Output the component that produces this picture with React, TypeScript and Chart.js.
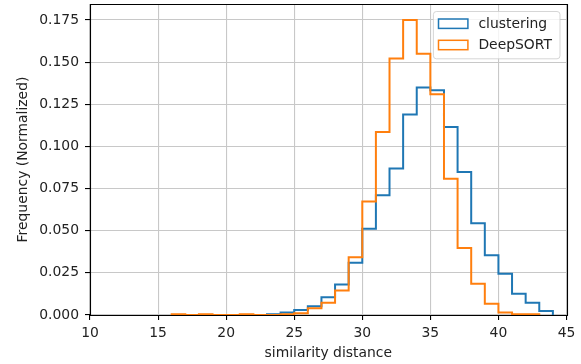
import React, { useEffect, useRef } from "react";
import { Chart, registerables } from "chart.js";

Chart.register(...registerables);

// Histogram bin edges (width 1) for bins 16..43
const binEdges = [16, 17, 18, 19, 20, 21, 22, 23, 24, 25, 26, 27, 28, 29, 30, 31, 32, 33, 34, 35, 36, 37, 38, 39, 40, 41, 42, 43, 44];

// Normalized frequency per bin (null = outside the series range)
const clusteringValues = [
  null, null, null, null, null, null, null,
  0.0005, 0.0015, 0.003, 0.0052, 0.0106, 0.0181, 0.031, 0.0512, 0.071, 0.0869,
  0.119, 0.135, 0.1334, 0.1116, 0.0849, 0.0545, 0.0354, 0.0245, 0.0126, 0.0072, 0.0023,
];
const deepsortValues = [
  0.0005, 0, 0.0005, 0, 0, 0.0005, 0, 0, 0.0005, 0.001, 0.004, 0.0072, 0.0146, 0.0343,
  0.0674, 0.1086, 0.1522, 0.175, 0.155, 0.131, 0.0809, 0.0397, 0.0185, 0.0066, 0.0015,
  0.0005, 0.0005, null,
];

const seriesLabels = ["clustering", "DeepSORT"];
const seriesColors = ["#1f77b4", "#ff7f0e"];

const xTicks = [10, 15, 20, 25, 30, 35, 40, 45];
const yTicks = [0, 0.025, 0.05, 0.075, 0.1, 0.125, 0.15, 0.175];
const xRange = [10, 45];
const yRange = [0, 0.1845];

const FONT = "'DejaVu Sans', sans-serif";
const FS = 13.9;

function stepPoints(vals: (number | null)[]) {
  const pts: { x: number; y: number }[] = [];
  let first = -1;
  let last = -1;
  vals.forEach((v, i) => {
    if (v !== null) {
      if (first < 0) first = i;
      last = i;
    }
  });
  pts.push({ x: binEdges[first], y: 0 });
  for (let i = first; i <= last; i++) pts.push({ x: binEdges[i], y: vals[i] as number });
  pts.push({ x: binEdges[last + 1], y: 0 });
  return pts;
}

const framePlugin = {
  id: "mplFrame",
  afterDatasetsDraw(chart: any) {
    const { ctx, chartArea } = chart;
    const l = Math.round(chartArea.left) + 0.5;
    const t = Math.round(chartArea.top) + 0.5;
    const r = Math.round(chartArea.right) + 0.5;
    const b = Math.round(chartArea.bottom) + 0.5;
    ctx.save();
    ctx.strokeStyle = "#000";
    ctx.lineWidth = 1.1;
    ctx.beginPath();
    ctx.rect(l, t, r - l, b - t);
    ctx.stroke();

    // legend
    const fr = chartArea.right - 7;
    const ft = chartArea.top + 7;
    const fw = 126.6;
    const fh = 47.3;
    const fl = fr - fw;
    ctx.beginPath();
    ctx.roundRect(fl + 0.5, ft + 0.5, fw, fh, 3);
    ctx.fillStyle = "rgba(255,255,255,0.8)";
    ctx.fill();
    ctx.strokeStyle = "rgba(204,204,204,0.8)";
    ctx.lineWidth = 1;
    ctx.stroke();
    ctx.font = `${FS}px ${FONT}`;
    ctx.textBaseline = "middle";
    ctx.textAlign = "left";
    seriesLabels.forEach((lab, i) => {
      const cy = ft + 12.7 + i * 21.3;
      ctx.strokeStyle = seriesColors[i];
      ctx.lineWidth = 1.5;
      ctx.strokeRect(fl + 5.6, cy - 4.7, 29.4, 9.4);
      ctx.fillStyle = "#222";
      ctx.fillText(lab, fl + 45.5, cy + 0.5);
    });
    ctx.restore();
  },
};

export default function App() {
  const ref = useRef<HTMLCanvasElement>(null);

  useEffect(() => {
    const canvas = ref.current;
    if (!canvas) return;
    const tickFont = { family: FONT, size: FS };
    const chart = new Chart(canvas, {
      type: "line",
      data: {
        datasets: [
          {
            label: seriesLabels[0],
            data: stepPoints(clusteringValues),
            borderColor: seriesColors[0],
            borderWidth: 2,
            pointRadius: 0,
            fill: false,
            stepped: "before",
            order: 1,
          },
          {
            label: seriesLabels[1],
            data: stepPoints(deepsortValues),
            borderColor: seriesColors[1],
            borderWidth: 2,
            pointRadius: 0,
            fill: false,
            stepped: "before",
            order: 0,
          },
        ],
      },
      options: {
        animation: false,
        responsive: false,
        maintainAspectRatio: false,
        devicePixelRatio: 1,
        layout: { padding: { top: 4, right: 14.5, left: 0, bottom: 0 } },
        plugins: {
          legend: { display: false },
          tooltip: { enabled: false },
        },
        scales: {
          x: {
            type: "linear",
            min: xRange[0],
            max: xRange[1],
            afterBuildTicks: (axis: any) => {
              axis.ticks = xTicks.map((v) => ({ value: v }));
            },
            afterFit: (axis: any) => {
              axis.height = 49;
              axis.paddingLeft = 0;
              axis.paddingRight = 0;
            },
            grid: {
              color: "#c8c8c8",
              lineWidth: 1.1,
              tickColor: "#000",
              tickLength: 5,
              drawTicks: true,
            },
            border: { display: false },
            ticks: {
              font: tickFont,
              color: "#222",
              padding: 5,
              maxRotation: 0,
              autoSkip: false,
              callback: (v: any) => String(v),
            },
            title: {
              display: true,
              text: "similarity distance",
              font: tickFont,
              color: "#222",
              padding: { top: 0, bottom: 2 },
            },
          },
          y: {
            type: "linear",
            min: yRange[0],
            max: yRange[1],
            afterBuildTicks: (axis: any) => {
              axis.ticks = yTicks.map((v) => ({ value: v }));
            },
            afterFit: (axis: any) => {
              axis.width = 90;
              axis.paddingTop = 0;
              axis.paddingBottom = 0;
            },
            grid: {
              color: "#c8c8c8",
              lineWidth: 1.1,
              tickColor: "#000",
              tickLength: 5,
              drawTicks: true,
            },
            border: { display: false },
            ticks: {
              font: tickFont,
              color: "#222",
              padding: 6,
              autoSkip: false,
              callback: (v: any) => Number(v).toFixed(3),
            },
            title: {
              display: true,
              text: "Frequency (Normalized)",
              font: tickFont,
              color: "#222",
              padding: { top: 15, bottom: 0 },
            },
          },
        },
      },
      plugins: [framePlugin],
    });
    return () => chart.destroy();
  }, []);

  return (
    <div style={{ position: "fixed", left: 0, top: 0, width: 581, height: 364, background: "#fff" }}>
      <canvas ref={ref} width={581} height={364} style={{ width: 581, height: 364, display: "block" }} />
    </div>
  );
}
